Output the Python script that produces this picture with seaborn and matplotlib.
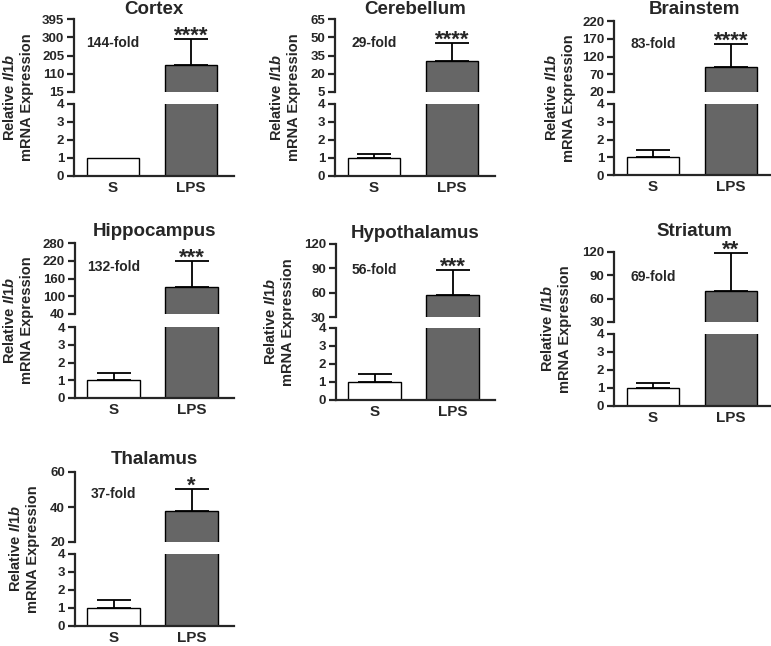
import matplotlib
matplotlib.use("Agg")
import matplotlib.pyplot as plt
import matplotlib.transforms as mtransforms
import seaborn as sns
import pandas as pd

# data
regions = ["Cortex", "Cerebellum", "Brainstem", "Hippocampus", "Hypothalamus", "Striatum", "Thalamus"]
groups = ["S", "LPS"]
saline_mean = [1, 1, 1, 1, 1, 1, 1]
saline_sem = [0.0, 0.24, 0.41, 0.39, 0.46, 0.28, 0.43]
lps_mean = [153, 30.6, 90.6, 132, 57, 69.8, 37.5]
lps_sem = [138, 14.4, 66, 87, 31, 49, 12.8]
fold = [144, 29, 83, 132, 56, 69, 37]
stars = ["****", "****", "****", "***", "***", "**", "*"]
upper_ticks = [
    [15, 110, 205, 300, 395],
    [5, 20, 35, 50, 65],
    [20, 70, 120, 170, 220],
    [40, 100, 160, 220, 280],
    [30, 60, 90, 120],
    [30, 60, 90, 120],
    [20, 40, 60],
]
lower_ticks = [0, 1, 2, 3, 4]

# panel layout in pixels: S centre, upper top/bottom, lower top/bottom,
# y label x, fold text y (axes fraction), title baseline y
layout = [
    (113, 19, 92, 104, 176, 18, 0.67, 14),
    (374, 19, 92, 104, 176, 285, 0.67, 14),
    (653, 21, 92, 104, 175, 560, 0.67, 14.5),
    (113.5, 243, 314, 327, 398, 18, 0.66, 236.5),
    (374.5, 244, 317, 328, 400, 279, 0.64, 238),
    (653, 252, 322, 334, 406, 556, 0.64, 235.5),
    (113.5, 472, 542, 554, 626, 24, 0.69, 464),
]

sns.set_style("ticks")
plt.rcParams["font.family"] = ["Liberation Sans", "DejaVu Sans"]
plt.rcParams["font.weight"] = "bold"
plt.rcParams["mathtext.fontset"] = "custom"
plt.rcParams["mathtext.it"] = "Liberation Sans:italic:bold"
plt.rcParams["mathtext.rm"] = "Liberation Sans:bold"

W, H = 771, 646
fig = plt.figure(figsize=(W / 100, H / 100), dpi=100)
step = 78  # pixels between bar centres
palette = {"S": "white", "LPS": "#666666"}


def add_ax(left, top, right, bottom):
    return fig.add_axes([left / W, 1 - bottom / H, (right - left) / W, (bottom - top) / H])


for i, name in enumerate(regions):
    cx, ut, ub, lt, lb, lab_x, fold_y, title_y = layout[i]
    left, right = cx - 0.5 * step, cx + 1.55 * step
    ax_up = add_ax(left, ut, right, ub)
    ax_lo = add_ax(left, lt, right, lb)

    df = pd.DataFrame({"group": groups, "value": [saline_mean[i], lps_mean[i]],
                       "sem": [saline_sem[i], lps_sem[i]]})
    err = df[df["sem"] > 0]
    for ax in (ax_up, ax_lo):
        sns.barplot(data=df, x="group", y="value", hue="group", palette=palette,
                    width=0.667, edgecolor="black", linewidth=1.0, errorbar=None,
                    legend=False, ax=ax)
        ax.errorbar(err.index, err["value"], yerr=[[0] * len(err), err["sem"]],
                    fmt="none", ecolor="black", elinewidth=1.3, capsize=12, capthick=1.3)
        ax.set_xlim(-0.5, 1.55)
        ax.set_xlabel("")
        ax.set_ylabel("")
        sns.despine(ax=ax)
        for s in ("left", "bottom"):
            ax.spines[s].set_linewidth(1.6)
        ax.tick_params(axis="y", length=5, width=1.6, labelsize=9.5, pad=2)

    ticks = upper_ticks[i]
    ax_up.set_ylim(ticks[0], ticks[-1])
    ax_up.set_yticks(ticks)
    ax_up.spines["bottom"].set_visible(False)
    ax_up.set_xticks([])

    ax_lo.set_ylim(0, 4)
    ax_lo.set_yticks(lower_ticks)
    ax_lo.tick_params(axis="x", length=0, labelsize=11, pad=3.5)
    for lbl in ax_lo.get_xticklabels() + ax_lo.get_yticklabels() + ax_up.get_yticklabels():
        lbl.set_fontweight("bold")

    fig.text((left + right) / 2 / W, 1 - title_y / H, name, ha="center", va="baseline",
             fontsize=13.5, fontweight="bold")
    trans = mtransforms.blended_transform_factory(ax_up.transData, ax_up.transAxes)
    ax_up.text(0, fold_y, f"{fold[i]}-fold", transform=trans, ha="center", va="center",
               fontsize=10, fontweight="bold")
    ax_up.annotate(stars[i], xy=(1, lps_mean[i] + lps_sem[i]), xytext=(0, -2),
                   textcoords="offset points", ha="center", va="baseline",
                   fontsize=16, annotation_clip=False)

    fig.text(lab_x / W, 1 - ((ut + lb) / 2) / H, "Relative $\\mathit{Il1b}$\nmRNA Expression",
             rotation=90, ha="center", va="center", fontsize=10.5, fontweight="bold",
             multialignment="center")

fig.savefig("out.png", dpi=100)
